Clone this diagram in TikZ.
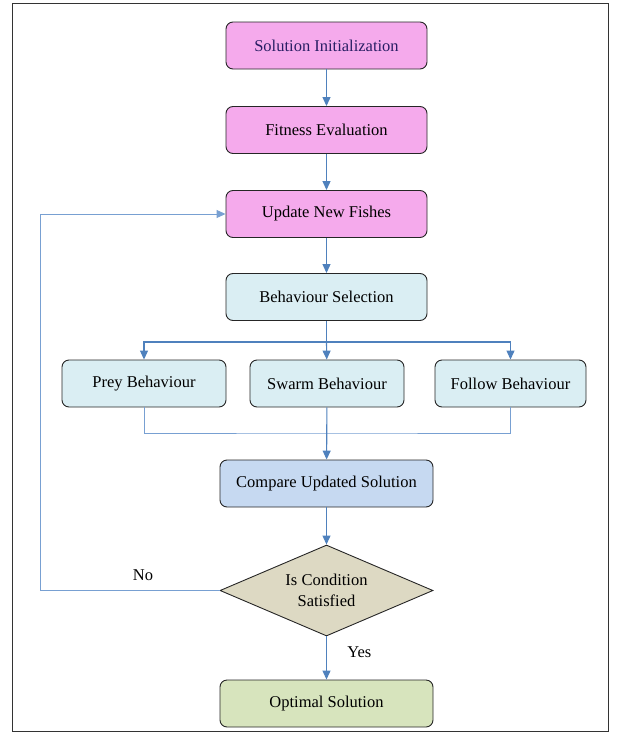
\documentclass[tikz,border=0pt]{standalone}
\usepackage{fontspec}
\setmainfont{Liberation Serif}
\usetikzlibrary{shapes.geometric,arrows.meta}
\definecolor{pinkf}{RGB}{245,170,236}
\definecolor{bluef}{RGB}{218,238,243}
\definecolor{cmpf}{RGB}{198,217,241}
\definecolor{diaf}{RGB}{221,217,195}
\definecolor{optf}{RGB}{215,228,189}
\definecolor{arr}{RGB}{79,129,189}
\definecolor{arrl}{RGB}{120,160,210}
\definecolor{navy}{RGB}{40,30,100}
\tikzset{
  txt/.style={font=\fontsize{16.5}{21}\selectfont},
  box/.style={txt, draw=black!85, line width=0.9pt, rounded corners=7pt, minimum height=47pt, inner sep=0pt, anchor=center},
  flow/.style={draw=arr, line width=1.1pt, -{Triangle[width=8pt,length=9pt]}},
  plain/.style={draw=arrl, line width=1pt},
}
\begin{document}
\begin{tikzpicture}[x=1pt,y=-1pt]
\useasboundingbox (0,0) rectangle (620,736);
\draw[line width=1pt, black!80] (12,3) rectangle (608,731);
\node[box, fill=pinkf, minimum width=201pt, text=navy] (init) at (326.5,45.5) {Solution Initialization};
\node[box, fill=pinkf, minimum width=201pt] (fit) at (326.5,130) {Fitness Evaluation};
\node[box, fill=pinkf, minimum width=201pt] (upd) at (326.5,214) {Update New Fishes};
\node[box, fill=bluef, minimum width=201pt] (sel) at (326.5,297) {Behaviour Selection};
\node[box, fill=bluef, minimum width=164pt] (prey) at (144,383.5) {Prey Behaviour};
\node[box, fill=bluef, minimum width=154pt] (swarm) at (327,383.5) {Swarm Behaviour};
\node[box, fill=bluef, minimum width=151pt] (follow) at (510.5,383.5) {Follow Behaviour};
\node[box, fill=cmpf, minimum width=213pt] (cmp) at (326.5,483.5) {Compare Updated Solution};
\node[txt, draw=black!85, line width=0.9pt, fill=diaf, diamond, shape aspect=2.34, minimum width=213pt, minimum height=91pt, inner sep=0pt, align=center] (cond) at (326.5,590.5) {Is Condition\\Satisfied};
\node[box, fill=optf, minimum width=213pt] (opt) at (326.5,703.5) {Optimal Solution};
\coordinate (split) at (326.5,342);
\coordinate (loopa) at (40,590.5);
\coordinate (loopb) at (40,214);
\draw[flow] (init) -- (fit);
\draw[flow] (fit) -- (upd);
\draw[flow] (upd) -- (sel);
\draw[draw=arr, line width=1.1pt] (sel) -- (split);
\draw[flow] (split) -- (swarm);
\draw[flow] (split) -| (prey);
\draw[flow] (split) -| (follow);
\draw[plain] (prey.south) |- (326.5,433) -| (follow.south);
\draw[flow] (swarm) -- (cmp);
\draw[flow] (cmp) -- (cond);
\draw[flow] (cond) -- (opt) node[txt, pos=0.36, right=17pt, black] (yes) {Yes};
\draw[plain] (cond.west) -- (loopa) -- (loopb);
\draw[flow, draw=arrl, line width=1pt] (loopb) -- (upd.west);
\node[txt] (no) at (143,575) {No};
\end{tikzpicture}
\end{document}
